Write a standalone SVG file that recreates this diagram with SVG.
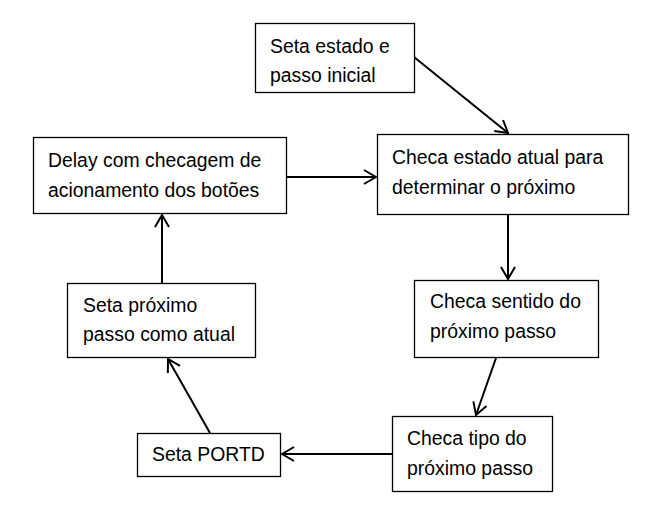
<svg xmlns="http://www.w3.org/2000/svg" width="666" height="524" viewBox="0 0 666 524">
<defs>
<style>
.box{fill:#fff;stroke:#000;stroke-width:1.3}
.t{font-family:"Liberation Sans",Arial,sans-serif;font-size:19.4px;fill:#000}
.c{stroke:#000;stroke-width:2;fill:none}
</style>
<marker id="ah" markerWidth="14" markerHeight="16" refX="13" refY="8" orient="auto" markerUnits="userSpaceOnUse">
<path d="M1,1 L13,8 L1,15" fill="none" stroke="#000" stroke-width="2"/>
</marker>
</defs>
<rect width="666" height="524" fill="#fff"/>
<g id="connectors">
<line class="c" x1="414" y1="57" x2="508" y2="133" marker-end="url(#ah)"/>
<line class="c" x1="287" y1="177" x2="376" y2="177" marker-end="url(#ah)"/>
<line class="c" x1="508" y1="215" x2="508" y2="279" marker-end="url(#ah)"/>
<line class="c" x1="496" y1="358" x2="476" y2="415" marker-end="url(#ah)"/>
<line class="c" x1="393" y1="454" x2="282" y2="454" marker-end="url(#ah)"/>
<line class="c" x1="210" y1="433" x2="168" y2="359" marker-end="url(#ah)"/>
<line class="c" x1="162" y1="283" x2="162" y2="215" marker-end="url(#ah)"/>
</g>
<g id="n1"><rect class="box" x="255.5" y="23.5" width="159" height="69"/>
<text class="t" x="270" y="53">Seta estado e</text><text class="t" x="270" y="82">passo inicial</text></g>
<g id="n2"><rect class="box" x="33.5" y="137.5" width="253" height="76"/>
<text class="t" x="48" y="167">Delay com checagem de</text><text class="t" x="48" y="197">acionamento dos botões</text></g>
<g id="n3"><rect class="box" x="377.5" y="134.5" width="251" height="80"/>
<text class="t" x="392" y="164">Checa estado atual para</text><text class="t" x="392" y="194">determinar o próximo</text></g>
<g id="n4"><rect class="box" x="414.5" y="280.5" width="184" height="77"/>
<text class="t" x="430" y="308">Checa sentido do</text><text class="t" x="430" y="338">próximo passo</text></g>
<g id="n5"><rect class="box" x="67.5" y="283.5" width="188" height="74"/>
<text class="t" x="83" y="312">Seta próximo</text><text class="t" x="83" y="341">passo como atual</text></g>
<g id="n6"><rect class="box" x="137.5" y="433.5" width="143" height="43"/>
<text class="t" x="152" y="461">Seta PORTD</text></g>
<g id="n7"><rect class="box" x="392.5" y="416.5" width="160" height="75"/>
<text class="t" x="407" y="445">Checa tipo do</text><text class="t" x="407" y="475">próximo passo</text></g>
</svg>
